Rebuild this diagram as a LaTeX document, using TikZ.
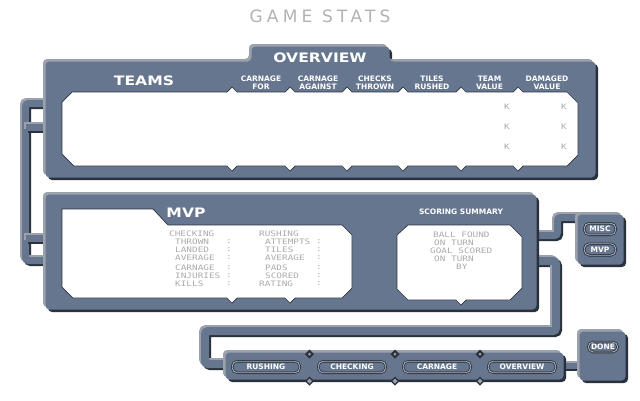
\documentclass[tikz,border=0pt]{standalone}
\usepackage{fontspec}
\setmainfont{DejaVu Sans}
\newfontfamily\pixfont[FakeStretch=1.25]{DejaVu Sans Mono}
\newfontfamily\headfont[FakeStretch=1.2]{DejaVu Sans}
\newfontfamily\titlefont[LetterSpace=25]{DejaVu Sans}

\definecolor{slate}{HTML}{66768F}
\definecolor{rim}{HTML}{9CA2AB}
\definecolor{dark}{HTML}{29313C}
\definecolor{statgray}{HTML}{ABABAB}
\definecolor{ring}{HTML}{AAB0B8}

\tikzset{
  hdr/.style={text=white, font=\bfseries\fontsize{7.5}{8}\selectfont, align=center, inner sep=0pt},
  big/.style={text=white, font=\headfont\bfseries\fontsize{13}{13}\selectfont, inner sep=0pt},
  stat/.style={text=statgray, font=\pixfont\fontsize{7.5}{8}\selectfont, anchor=west, inner sep=0pt},
  btn/.style={draw=dark, double=ring, double distance=0.9pt, line width=0.8pt, fill=slate,
    rounded corners=5pt, text=white, font=\bfseries\fontsize{7.5}{8}\selectfont,
    minimum height=11.5pt, inner sep=0pt},
  inner/.style={fill=white, draw=dark, line width=0.7pt},
}

\newcommand{\panel}[1]{%
  \fill[dark, rounded corners=4pt, shift={(5,5)}] #1;
  \fill[rim, rounded corners=4pt] #1;
  \fill[slate, rounded corners=4pt, shift={(2.5,2.5)}] #1;}
\newcommand{\pipe}[2]{%
  \draw[dark, line width=#1pt, rounded corners=3pt, shift={(4,4)}] #2;
  \draw[rim, line width=#1pt, rounded corners=3pt] #2;
  \draw[slate, line width=#1pt, rounded corners=3pt, shift={(2,2)}] #2;}

\begin{document}
\begin{tikzpicture}[x=1pt,y=-1pt]
        \fill[white] (0,0) rectangle (640,400);
        \useasboundingbox (0,0) rectangle (640,400);
        \node[text=black!30, font=\titlefont\fontsize{17}{17}\selectfont, inner sep=0pt] (title) at (320,16.5) {GAME STATS};

        % Pipes between the panels
        \pipe{7}{(45,101.5) -- (23.5,101.5) -- (23.5,258.5) -- (45,258.5)}
        \pipe{7}{(23.5,125.5) -- (45,125.5)}
        \pipe{7}{(23.5,236.5) -- (45,236.5)}
        \pipe{7}{(534,233.5) -- (555.5,233.5) -- (555.5,215.5) -- (580,215.5)}
        \pipe{8}{(534,259) -- (554,259) -- (554,329) -- (203,329) -- (203,362) -- (228,362)}
        \pipe{6}{(558,364) -- (582,364)}

        % Panels
        \panel{(43,59) -- (249,59) -- (249,44) -- (387,44) -- (387,59) -- (593,59) -- (593,175) -- (43,175) -- cycle}
        \panel{(43,192) -- (534,192) -- (534,307) -- (43,307) -- cycle}
        \panel{(575,212) -- (621,212) -- (621,262) -- (575,262) -- cycle}
        \panel{(223,350) -- (561,350) -- (561,377) -- (223,377) -- cycle}
        \panel{(577,329) -- (623,329) -- (623,378) -- (577,378) -- cycle}

        % White fields
        \draw[inner] (62,102) -- (72,92)
          \foreach \x in {232,290,347,403,461,518} { -- (\x-5,92) -- (\x,87) -- (\x+5,92)}
          -- (567,92) -- (578,103) -- (578,155) -- (567,166)
          \foreach \x in {518,461,403,347,290,232} { -- (\x+5,166) -- (\x,171) -- (\x-5,166)}
          -- (74,166) -- (62,154) -- cycle;
        \draw[inner] (62,209) -- (153,209) -- (168,225) -- (342,225) -- (352,235) -- (352,288) -- (342,298)
          \foreach \x in {290,232} { -- (\x+5,298) -- (\x,303) -- (\x-5,298)}
          -- (73,298) -- (62,287) -- cycle;
        \draw[inner] (397,235) -- (408,225) -- (510,225) -- (522,237) -- (522,288) -- (510,300)
          -- (466,300) -- (461,305) -- (456,300) -- (408,300) -- (397,289) -- cycle;

        % Overview headings
        \node[big] (overview) at (320,58) {OVERVIEW};
        \node[big] (teams) at (144,81) {TEAMS};
        \node[hdr] (carnagefor) at (261,82.5) {CARNAGE\\FOR};
        \node[hdr] (carnageagainst) at (318,82.5) {CARNAGE\\AGAINST};
        \node[hdr] (checksthrown) at (375,82.5) {CHECKS\\THROWN};
        \node[hdr] (tilesrushed) at (432,82.5) {TILES\\RUSHED};
        \node[hdr] (teamvalue) at (489.5,82.5) {TEAM\\VALUE};
        \node[hdr] (damagedvalue) at (547,82.5) {DAMAGED\\VALUE};
        \foreach \y [count=\i] in {107,127,147} {
          \node[stat, anchor=center] (kteam\i) at (507,\y) {K};
          \node[stat, anchor=center] (kdamaged\i) at (564,\y) {K};
        }

        % MVP and scoring
        \node[big] (mvp) at (186,213) {MVP};
        \node[hdr] (scoring) at (461,212) {SCORING SUMMARY};
        \node[stat] (checking) at (169,234) {CHECKING};
        \node[stat] (rushing) at (259,234) {RUSHING};
        \foreach \y/\a/\xb/\b [count=\i] in {242/THROWN/265/ATTEMPTS, 250/LANDED/265/TILES,
            258/AVERAGE/265/AVERAGE, 268/CARNAGE/265/PADS, 276/INJURIES/265/SCORED, 284/KILLS/259/RATING} {
          \node[stat] (leftstat\i) at (175,\y) {\a};
          \node[stat] (leftcolon\i) at (226,\y) {:};
          \node[stat] (rightstat\i) at (\xb,\y) {\b};
          \node[stat] (rightcolon\i) at (316,\y) {:};
        }
        \node[stat] (ballfound) at (433,235) {BALL FOUND};
        \node[stat] (foundturn) at (434,243) {ON TURN};
        \node[stat] (goalscored) at (430,251) {GOAL SCORED};
        \node[stat] (goalturn) at (434,259) {ON TURN};
        \node[stat] (scoredby) at (456,267) {BY};

        % Buttons
        \node[btn, minimum width=67.5pt] (rushingbtn) at (266,367) {RUSHING};
        \node[btn, minimum width=67.5pt] (checkingbtn) at (352,367) {CHECKING};
        \node[btn, minimum width=67.5pt] (carnagebtn) at (437,367) {CARNAGE};
        \node[btn, minimum width=67.5pt] (overviewbtn) at (522,367) {OVERVIEW};
        \node[btn, minimum width=31.5pt] (miscbtn) at (600,229) {MISC};
        \node[btn, minimum width=31.5pt] (mvpbtn) at (600,249.5) {MVP};
        \node[btn, minimum width=29.5pt, minimum height=10pt] (donebtn) at (603,347) {DONE};
        \foreach \x in {309.5,395,480} {
          \fill[dark] (\x,349.5) -- (\x+4.5,354) -- (\x,358.5) -- (\x-4.5,354) -- cycle;
          \fill[rim] (\x,352.5) -- (\x+1.5,354) -- (\x,355.5) -- (\x-1.5,354) -- cycle;
          \fill[dark] (\x,376.5) -- (\x+4.5,381) -- (\x,385.5) -- (\x-4.5,381) -- cycle;
          \fill[rim] (\x,378.5) -- (\x+2.5,381) -- (\x,383.5) -- (\x-2.5,381) -- cycle;
        }
\end{tikzpicture}
\end{document}
